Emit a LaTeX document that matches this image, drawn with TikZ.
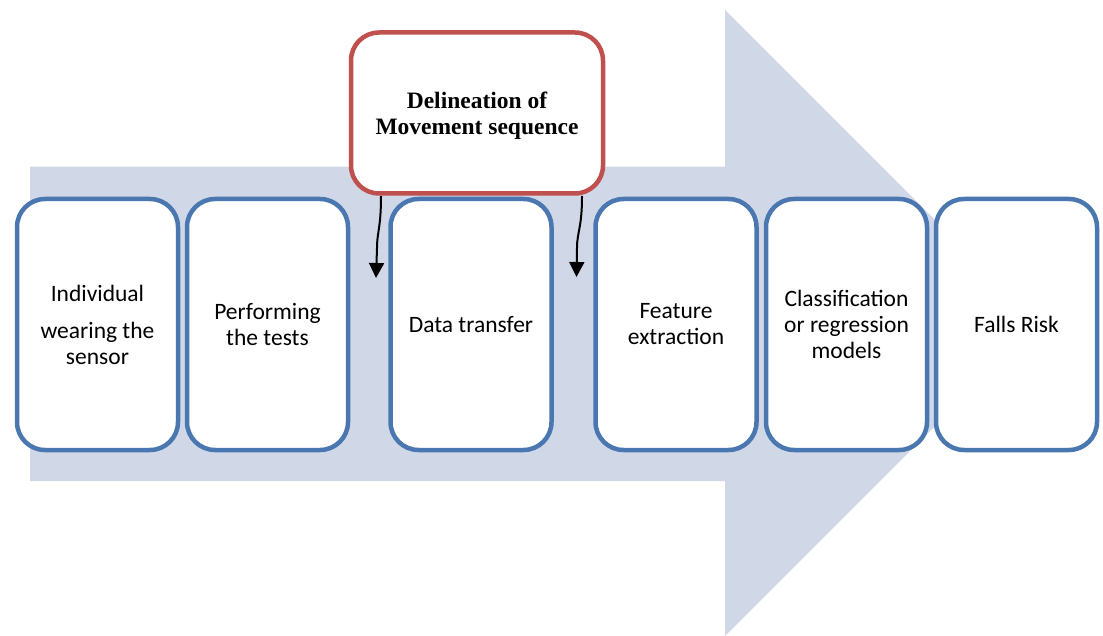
\documentclass[tikz,border=0pt]{standalone}
\usepackage{fontspec}
\setmainfont{Carlito}
\newfontfamily\timesfam{Liberation Serif}
\usetikzlibrary{arrows.meta}
\definecolor{boxblue}{HTML}{4A77B0}
\definecolor{arrowfill}{HTML}{D0D8E8}
\definecolor{boxred}{HTML}{C0504D}
\begin{document}
\begin{tikzpicture}[x=1pt,y=-1pt,
  stepbox/.style={draw=boxblue, line width=4.5pt, fill=white, rounded corners=28pt,
    minimum width=161pt, minimum height=251pt, align=center, inner sep=0pt,
    font=\fontsize{23.5}{26}\selectfont},
  redbox/.style={draw=boxred, line width=4.5pt, fill=white, rounded corners=28pt,
    minimum width=252pt, minimum height=161pt, align=center, inner sep=0pt,
    font=\timesfam\bfseries\fontsize{23.5}{26}\selectfont},
  flow/.style={-{Triangle[length=15pt,width=15pt]}, line width=2pt, black}]
\useasboundingbox (0,0) rectangle (1103,636);
% big background arrow
\fill[arrowfill] (30,166.7) -- (725,166.7) -- (725,10) -- (1038,323)
  -- (725,636) -- (725,481) -- (30,481) -- cycle;
% step boxes
\node[stepbox] (b1) at (97.5,324.5) {Individual\\[11pt]wearing the\\sensor};
\node[stepbox] (b2) at (267.5,324.5) {Performing\\the tests};
\node[stepbox] (b3) at (471,324.5) {Data transfer};
\node[stepbox] (b4) at (676,324.5) {Feature\\extraction};
\node[stepbox] (b5) at (846.5,324.5) {Classification\\or regression\\models};
\node[stepbox] (b6) at (1016.5,324.5) {Falls Risk};
% red box
\node[redbox] (rd) at (477,113) {\raisebox{-3pt}[\height][\depth]{\begin{tabular}{@{}c@{}}Delineation of\\Movement sequence\end{tabular}}};
% small arrows
\coordinate (a1s) at (381,196);
\coordinate (a1e) at (376,278);
\coordinate (a2s) at (582,196);
\coordinate (a2e) at (576.5,277);
\draw[flow] (a1s) .. controls (381,228) and (377,232) .. (377,248) -- (a1e);
\draw[flow] (a2s) .. controls (582,228) and (577,232) .. (577,248) -- (a2e);
\end{tikzpicture}
\end{document}
